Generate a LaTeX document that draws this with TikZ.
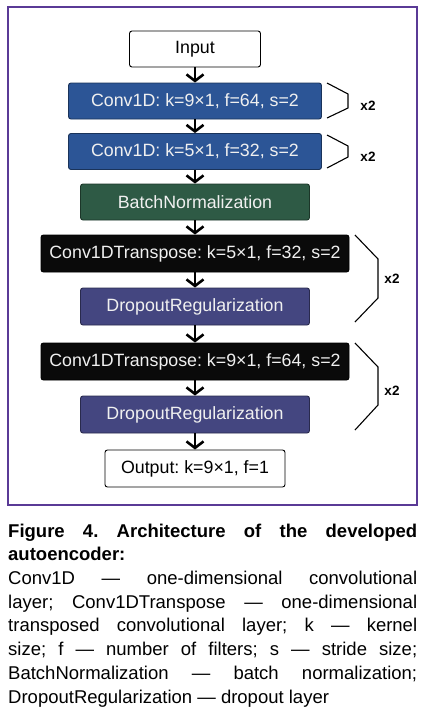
\documentclass[tikz,border=0pt]{standalone}
\usepackage{fontspec}
\setmainfont{Liberation Sans}
\usepackage{xcolor}
\usetikzlibrary{arrows.meta}
\definecolor{frm}{HTML}{5A3A96}
\definecolor{cnv}{HTML}{2C5596}
\definecolor{bnm}{HTML}{2E5A45}
\definecolor{drp}{HTML}{444680}
\tikzset{
  blk/.style={draw,line width=0.9pt,rounded corners=2.5pt,inner sep=0pt,minimum height=36pt,
    font=\fontsize{17.8}{20}\selectfont},
  wht/.style={blk,draw=black,fill=white,text=black},
  cv/.style={blk,draw=cnv!60!black,fill=cnv,text=white!94!black,minimum width=253pt},
  bn/.style={blk,draw=bnm!60!black,fill=bnm,text=white!94!black,minimum width=229pt},
  tr/.style={blk,draw=black,fill=black!96,text=white!94!black,minimum width=308pt},
  dp/.style={blk,draw=drp!60!black,fill=drp,text=white!94!black,minimum width=229pt},
  arr/.style={line width=2.6pt,-{Straight Barb[length=6.5pt,width=17pt]}},
  brk/.style={line width=1.1pt,line join=miter},
  rep/.style={font=\bfseries\fontsize{13.5}{15}\selectfont,inner sep=0pt}
}
\begin{document}
\frenchspacing
\begin{tikzpicture}[x=1pt,y=-1pt]
\useasboundingbox (0,0) rectangle (426,715);
\draw[frm,line width=2pt] (8,7) rectangle (417,505);
% layers
\node[wht,minimum width=131pt] (inp) at (195,49) {Input};
\node[cv] (cv1) at (195,101) {Conv1D: k=9×1, f=64, s=2};
\node[cv] (cv2) at (195,151.5) {Conv1D: k=5×1, f=32, s=2};
\node[bn] (bnrm) at (195,202) {BatchNormalization};
\node[tr,minimum height=37pt] (tr1) at (195,253.5) {Conv1DTranspose: k=5×1, f=32, s=2};
\node[dp,minimum height=37pt] (dp1) at (195,306.5) {DropoutRegularization};
\node[tr,minimum height=37pt] (tr2) at (195,361.5) {Conv1DTranspose: k=9×1, f=64, s=2};
\node[dp,minimum height=37pt] (dp2) at (195,414.5) {DropoutRegularization};
\node[wht,minimum width=180pt,minimum height=37pt] (out) at (195,468.5) {Output: k=9×1, f=1};
\draw[arr] (inp) -- (cv1);
\draw[arr] (cv1) -- (cv2);
\draw[arr] (cv2) -- (bnrm);
\draw[arr] (bnrm) -- (tr1);
\draw[arr] (tr1) -- (dp1);
\draw[arr] (dp1) -- (tr2);
\draw[arr] (tr2) -- (dp2);
\draw[arr] (dp2) -- (out);
% repeats
\draw[brk] (327,83) -- (348,94) -- (348,108) -- (327,118);
\node[rep] (r1) at (368,106) {x2};
\draw[brk] (327,135) -- (348,146) -- (348,157) -- (327,168);
\node[rep] (r2) at (368,157) {x2};
\draw[brk] (355,235) -- (378,259) -- (378,298) -- (355,322);
\node[rep] (r3) at (392,279) {x2};
\draw[brk] (355,343) -- (378,367) -- (378,405) -- (355,430);
\node[rep] (r4) at (392,391) {x2};
% caption
\node[anchor=north west,inner sep=0pt,text width=409pt,align=justify,
  font=\fontsize{18.5}{23.7}\selectfont] (cap) at (8,523.5) {%
  \textbf{Figure 4. Architecture of the developed\linebreak autoencoder:}\par
  Conv1D — one-dimensional convolutional\linebreak
  layer; Conv1DTranspose — one-dimensional\linebreak
  transposed convolutional layer; k — kernel\linebreak
  size; f — number of filters; s — stride size;\linebreak
  BatchNormalization — batch normalization;\linebreak
  DropoutRegularization — dropout layer};
\end{tikzpicture}
\end{document}
